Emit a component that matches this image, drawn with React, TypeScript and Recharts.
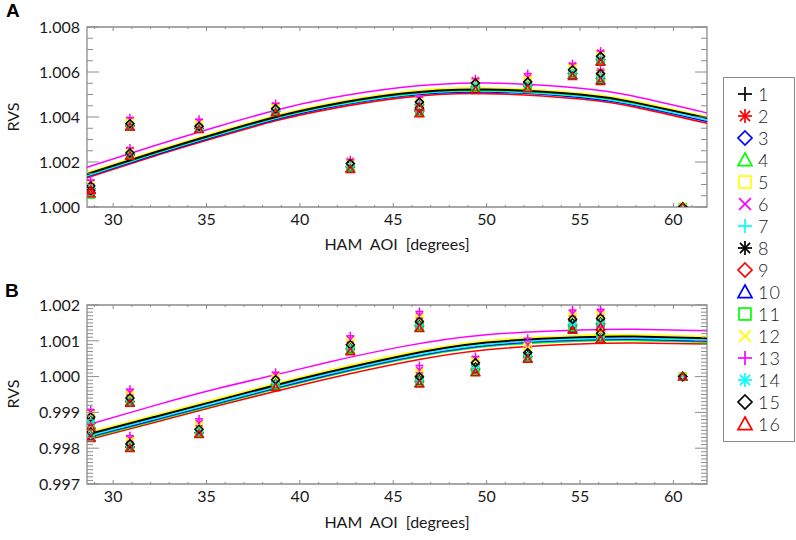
import React from 'react';
import { ComposedChart, Line, Scatter, XAxis, YAxis, ReferenceArea } from 'recharts';

// HAM angle of incidence for each measured point (some angles were measured twice)
const AOI = [28.8, 28.8, 30.9, 30.9, 34.6, 38.7, 42.7, 46.4, 46.4, 49.4, 52.2, 54.6, 56.1, 56.1, 60.5];
const FIT_AOI = [28.6, 32.2, 35.7, 38.7, 41.5, 45.4, 50, 55, 57.9, 61.8];

// panel A, RVS per detector
const A_DET1 = [1.0009, 1.0007, 1.00368, 1.00238, 1.00356, 1.00434, 1.0019, 1.00464, 1.00436, 1.00548, 1.00552, 1.00606, 1.00666, 1.0059, 1.0];
const A_DET2 = [1.00078, 1.00062, 1.00359, 1.0023, 1.00348, 1.00424, 1.00175, 1.0045, 1.0042, 1.00527, 1.00532, 1.00588, 1.0065, 1.00565, 1.0];
const A_DET3 = [1.0008, 1.00064, 1.0036, 1.00231, 1.00349, 1.00426, 1.00178, 1.00453, 1.00424, 1.00534, 1.00539, 1.00594, 1.00654, 1.00572, 1.0];
const A_DET4 = [1.00072, 1.00057, 1.00357, 1.00229, 1.00347, 1.00423, 1.00173, 1.00449, 1.00419, 1.00528, 1.00533, 1.00588, 1.00649, 1.00566, 1.0];
const A_DET5 = [1.00105, 1.00084, 1.00382, 1.0025, 1.00372, 1.00447, 1.00202, 1.00476, 1.0045, 1.0056, 1.0057, 1.00624, 1.00682, 1.006, 1.0];
const A_DET6 = [1.00108, 1.00088, 1.00386, 1.00253, 1.00377, 1.0045, 1.00204, 1.0048, 1.00452, 1.00562, 1.00575, 1.00628, 1.00685, 1.00602, 1.0];
const A_DET7 = [1.00085, 1.00066, 1.00364, 1.00234, 1.00352, 1.0043, 1.00183, 1.00458, 1.0043, 1.0054, 1.00545, 1.006, 1.0066, 1.0058, 1.0];
const A_DET8 = [1.00088, 1.00068, 1.00365, 1.00236, 1.00354, 1.00432, 1.00188, 1.00462, 1.00434, 1.00545, 1.0055, 1.00604, 1.00664, 1.00587, 1.0];
const A_DET9 = [1.00082, 1.00065, 1.00362, 1.00233, 1.0035, 1.00427, 1.0018, 1.00455, 1.00425, 1.00535, 1.0054, 1.00595, 1.00655, 1.00572, 1.0];
const A_DET10 = [1.00076, 1.00061, 1.00358, 1.00229, 1.00347, 1.00423, 1.00172, 1.00448, 1.00418, 1.00525, 1.00531, 1.00586, 1.00648, 1.00564, 1.0];
const A_DET11 = [1.0007, 1.00055, 1.00358, 1.0023, 1.00348, 1.00424, 1.00175, 1.0045, 1.0042, 1.0053, 1.00535, 1.0059, 1.0065, 1.00568, 1.0];
const A_DET12 = [1.00102, 1.0008, 1.00378, 1.00247, 1.00368, 1.00444, 1.00199, 1.00474, 1.00447, 1.00558, 1.00566, 1.0062, 1.00678, 1.00598, 1.0];
const A_DET13 = [1.00119, 1.001, 1.00397, 1.00262, 1.0039, 1.0046, 1.0021, 1.00489, 1.0046, 1.0057, 1.00593, 1.00637, 1.00693, 1.00608, 1.0];
const A_DET14 = [1.00083, 1.00065, 1.00362, 1.00233, 1.00351, 1.00428, 1.00181, 1.00456, 1.00428, 1.00538, 1.00543, 1.00598, 1.00658, 1.00578, 1.0];
const A_DET15 = [1.00093, 1.00072, 1.0037, 1.0024, 1.00359, 1.00437, 1.00193, 1.00467, 1.0044, 1.00551, 1.00556, 1.0061, 1.0067, 1.00593, 1.0];
const A_DET16 = [1.00075, 1.0006, 1.00356, 1.00227, 1.00345, 1.0042, 1.00168, 1.00445, 1.00415, 1.00519, 1.00526, 1.00581, 1.00644, 1.00559, 1.0];

// panel B, RVS per detector
const B_DET1 = [0.99884, 0.99842, 0.99937, 0.9981, 0.9985, 0.99988, 1.00086, 1.00151, 0.99997, 1.00035, 1.00064, 1.00157, 1.0016, 1.00118, 1.0];
const B_DET2 = [0.99868, 0.99832, 0.99929, 0.99802, 0.99841, 0.99974, 1.00074, 1.00138, 0.99984, 1.00015, 1.00052, 1.00136, 1.00143, 1.00106, 1.0];
const B_DET3 = [0.9987, 0.99833, 0.9993, 0.99803, 0.99843, 0.99978, 1.00077, 1.00141, 0.99986, 1.0002, 1.00055, 1.00142, 1.00147, 1.00109, 1.0];
const B_DET4 = [0.99863, 0.99829, 0.99928, 0.99801, 0.99841, 0.99973, 1.00073, 1.00138, 0.99983, 1.00014, 1.00052, 1.00135, 1.00142, 1.00106, 1.0];
const B_DET5 = [0.99897, 0.99856, 0.99952, 0.99822, 0.99866, 1.00001, 1.001, 1.00166, 1.00013, 1.00046, 1.00085, 1.00172, 1.00174, 1.0013, 1.0];
const B_DET6 = [0.999, 0.9986, 0.99955, 0.99825, 0.9987, 1.00004, 1.00104, 1.0017, 1.00018, 1.00049, 1.0009, 1.00176, 1.00178, 1.00133, 1.0];
const B_DET7 = [0.99878, 0.99838, 0.99933, 0.99807, 0.99847, 0.99983, 1.00082, 1.00146, 0.99992, 1.00028, 1.0006, 1.0015, 1.00154, 1.00114, 1.0];
const B_DET8 = [0.99882, 0.9984, 0.99935, 0.99808, 0.99848, 0.99986, 1.00084, 1.00149, 0.99995, 1.00033, 1.00062, 1.00155, 1.00158, 1.00116, 1.0];
const B_DET9 = [0.99872, 0.99834, 0.99931, 0.99804, 0.99844, 0.99979, 1.00078, 1.00142, 0.99988, 1.00022, 1.00056, 1.00144, 1.00149, 1.0011, 1.0];
const B_DET10 = [0.99866, 0.99831, 0.99928, 0.99801, 0.9984, 0.99972, 1.00072, 1.00137, 0.99982, 1.00013, 1.00051, 1.00133, 1.00141, 1.00105, 1.0];
const B_DET11 = [0.99865, 0.9983, 0.99929, 0.99802, 0.99842, 0.99975, 1.00075, 1.00139, 0.99984, 1.00016, 1.00053, 1.00138, 1.00144, 1.00107, 1.0];
const B_DET12 = [0.99894, 0.99853, 0.99948, 0.9982, 0.99862, 0.99998, 1.00097, 1.00163, 1.0001, 1.00044, 1.0008, 1.00168, 1.0017, 1.00127, 1.0];
const B_DET13 = [0.99907, 0.99868, 0.99965, 0.99835, 0.99882, 1.00012, 1.00114, 1.00182, 1.00031, 1.00056, 1.00107, 1.00186, 1.00188, 1.0014, 1.0];
const B_DET14 = [0.99876, 0.99836, 0.99932, 0.99806, 0.99846, 0.99981, 1.0008, 1.00144, 0.9999, 1.00025, 1.00058, 1.00147, 1.00152, 1.00112, 1.0];
const B_DET15 = [0.99887, 0.99845, 0.9994, 0.99812, 0.99853, 0.99991, 1.00089, 1.00154, 1.0, 1.00039, 1.00067, 1.0016, 1.00163, 1.00121, 1.0];
const B_DET16 = [0.9986, 0.99828, 0.99926, 0.998, 0.99839, 0.9997, 1.0007, 1.00135, 0.9998, 1.00011, 1.00049, 1.0013, 1.00138, 1.00104, 1.0];

// fitted curves, read at FIT_AOI
const A_FIT_MAGENTA = [1.00176, 1.00272, 1.0036, 1.0043, 1.00482, 1.00531, 1.00551, 1.00528, 1.00492, 1.00418];
const A_FIT_YELLOW = [1.00153, 1.00249, 1.00337, 1.00407, 1.00459, 1.0051, 1.00529, 1.00507, 1.00472, 1.00401];
const A_FIT_BLACK = [1.00146, 1.00242, 1.0033, 1.004, 1.00452, 1.00503, 1.00522, 1.005, 1.00465, 1.00395];
const A_FIT_GREEN = [1.00143, 1.00239, 1.00327, 1.00397, 1.00449, 1.005, 1.00519, 1.00497, 1.00462, 1.00398];
const A_FIT_CYAN = [1.00139, 1.00235, 1.00323, 1.00393, 1.00445, 1.00496, 1.00515, 1.00492, 1.00457, 1.00387];
const A_FIT_BLUE = [1.00135, 1.00231, 1.00319, 1.00389, 1.00441, 1.00492, 1.00511, 1.00487, 1.00452, 1.0038];
const A_FIT_RED = [1.0013, 1.00226, 1.00313, 1.00383, 1.00434, 1.00485, 1.00504, 1.0048, 1.00445, 1.00372];

const B_FIT_MAGENTA = [0.99865, 0.99919, 0.99968, 1.00005, 1.0004, 1.00083, 1.00117, 1.0013, 1.00132, 1.00128];
const B_FIT_YELLOW = [0.99843, 0.99892, 0.9994, 0.99981, 1.00017, 1.00062, 1.001, 1.00115, 1.00117, 1.00112];
const B_FIT_BLACK = [0.99838, 0.99887, 0.99935, 0.99976, 1.00012, 1.00057, 1.00095, 1.0011, 1.00112, 1.00107];
const B_FIT_CYAN = [0.99833, 0.99882, 0.9993, 0.99971, 1.00007, 1.00052, 1.0009, 1.00105, 1.00107, 1.00102];
const B_FIT_BLUE = [0.9983, 0.99879, 0.99927, 0.99968, 1.00004, 1.00049, 1.00087, 1.00102, 1.00104, 1.00099];
const B_FIT_GREEN = [0.99827, 0.99876, 0.99924, 0.99965, 1.00001, 1.00046, 1.00084, 1.00099, 1.00101, 1.00096];
const B_FIT_RED = [0.99823, 0.99872, 0.9992, 0.99959, 0.99994, 1.00038, 1.00075, 1.00091, 1.00094, 1.00091];

const DETECTORS = ['1', '2', '3', '4', '5', '6', '7', '8', '9', '10', '11', '12', '13', '14', '15', '16'];
const X_MAJOR = [30, 35, 40, 45, 50, 55, 60];
const A_Y_MAJOR = [1.0, 1.002, 1.004, 1.006, 1.008];
const B_Y_MAJOR = [0.997, 0.998, 0.999, 1.0, 1.001, 1.002];

const BLACK = '#000000';
const RED = '#ff0000';
const BLUE = '#0000ff';
const GREEN = '#00ff00';
const YELLOW = '#ffff00';
const MAGENTA = '#ff00ff';
const CYAN = '#00ffff';
const FRAME = '#8c8c8c';
const FONT = 'Lato, "DejaVu Sans", sans-serif';

const MARKERS = [
  { kind: 'plus', color: BLACK },
  { kind: 'asterisk', color: RED },
  { kind: 'diamond', color: BLUE },
  { kind: 'triangle', color: GREEN },
  { kind: 'square', color: YELLOW },
  { kind: 'cross', color: MAGENTA },
  { kind: 'plus', color: CYAN },
  { kind: 'asterisk', color: BLACK },
  { kind: 'diamond', color: RED },
  { kind: 'triangle', color: BLUE },
  { kind: 'square', color: GREEN },
  { kind: 'cross', color: YELLOW },
  { kind: 'plus', color: MAGENTA },
  { kind: 'asterisk', color: CYAN },
  { kind: 'diamond', color: BLACK },
  { kind: 'triangle', color: RED },
];

const A_DETS = [A_DET1, A_DET2, A_DET3, A_DET4, A_DET5, A_DET6, A_DET7, A_DET8, A_DET9, A_DET10, A_DET11, A_DET12, A_DET13, A_DET14, A_DET15, A_DET16];
const B_DETS = [B_DET1, B_DET2, B_DET3, B_DET4, B_DET5, B_DET6, B_DET7, B_DET8, B_DET9, B_DET10, B_DET11, B_DET12, B_DET13, B_DET14, B_DET15, B_DET16];

// drawing order: later ones sit on top
const A_FITS = [
  { color: RED, vals: A_FIT_RED, w: 1.6 },
  { color: BLUE, vals: A_FIT_BLUE, w: 1.5 },
  { color: CYAN, vals: A_FIT_CYAN, w: 1.5 },
  { color: GREEN, vals: A_FIT_GREEN, w: 1.5 },
  { color: YELLOW, vals: A_FIT_YELLOW, w: 1.6 },
  { color: MAGENTA, vals: A_FIT_MAGENTA, w: 1.5 },
  { color: BLACK, vals: A_FIT_BLACK, w: 2 },
];
const B_FITS = [
  { color: RED, vals: B_FIT_RED, w: 1.6 },
  { color: GREEN, vals: B_FIT_GREEN, w: 1.5 },
  { color: BLUE, vals: B_FIT_BLUE, w: 1.5 },
  { color: CYAN, vals: B_FIT_CYAN, w: 1.5 },
  { color: YELLOW, vals: B_FIT_YELLOW, w: 1.6 },
  { color: MAGENTA, vals: B_FIT_MAGENTA, w: 1.5 },
  { color: BLACK, vals: B_FIT_BLACK, w: 2 },
];

const X_DOMAIN: [number, number] = [28.6, 61.8];
const X_TICKS = Array.from({ length: 33 }, (_, i) => 29 + i);
const A_Y_TICKS = Array.from({ length: 17 }, (_, i) => +(1 + i * 0.0005).toFixed(4));
const B_Y_TICKS = Array.from({ length: 51 }, (_, i) => +(0.997 + i * 0.0001).toFixed(4));

const CHART_W = 710;
const Y_AXIS_W = 87;
const PLOT_W = CHART_W - Y_AXIS_W - 3;

function Marker({ cx, cy, kind, color, r, sw }: any) {
  if (cx == null || cy == null) return null;
  const d = r * 0.72;
  switch (kind) {
    case 'plus':
      return (
        <g stroke={color} strokeWidth={sw}>
          <line x1={cx - r} y1={cy} x2={cx + r} y2={cy} />
          <line x1={cx} y1={cy - r} x2={cx} y2={cy + r} />
        </g>
      );
    case 'asterisk':
      return (
        <g stroke={color} strokeWidth={sw}>
          <line x1={cx - r} y1={cy} x2={cx + r} y2={cy} />
          <line x1={cx} y1={cy - r} x2={cx} y2={cy + r} />
          <line x1={cx - d} y1={cy - d} x2={cx + d} y2={cy + d} />
          <line x1={cx - d} y1={cy + d} x2={cx + d} y2={cy - d} />
        </g>
      );
    case 'cross':
      return (
        <g stroke={color} strokeWidth={sw}>
          <line x1={cx - r * 0.85} y1={cy - r * 0.85} x2={cx + r * 0.85} y2={cy + r * 0.85} />
          <line x1={cx - r * 0.85} y1={cy + r * 0.85} x2={cx + r * 0.85} y2={cy - r * 0.85} />
        </g>
      );
    case 'diamond':
      return (
        <polygon
          points={`${cx},${cy - r} ${cx + r},${cy} ${cx},${cy + r} ${cx - r},${cy}`}
          fill="none" stroke={color} strokeWidth={sw}
        />
      );
    case 'triangle':
      return (
        <polygon
          points={`${cx},${cy - r} ${cx + r},${cy + r * 0.8} ${cx - r},${cy + r * 0.8}`}
          fill="none" stroke={color} strokeWidth={sw}
        />
      );
    default:
      return (
        <rect x={cx - r * 0.85} y={cy - r * 0.85} width={r * 1.7} height={r * 1.7}
          fill="none" stroke={color} strokeWidth={sw} />
      );
  }
}

const isMajor = (majors: number[], v: number) => majors.some((m) => Math.abs(m - v) < 1e-7);

function XTick({ x, y, payload, plotH }: any) {
  const v = payload.value;
  const major = isMajor(X_MAJOR, v);
  const len = major ? 4 : 2;
  return (
    <g>
      <line x1={x} y1={y} x2={x} y2={y - len} stroke={FRAME} />
      <line x1={x} y1={y - plotH} x2={x} y2={y - plotH + len} stroke={FRAME} />
      {major && (
        <text x={x} y={y + 18} textAnchor="middle" fontSize={16} fontFamily={FONT} fill="#1a1a1a">
          {v}
        </text>
      )}
    </g>
  );
}

function YTick({ x, y, payload, majors }: any) {
  const v = payload.value;
  const major = isMajor(majors, v);
  const len = major ? 12 : 6;
  return (
    <g>
      <line x1={x} y1={y} x2={x + len} y2={y} stroke={FRAME} />
      <line x1={x + PLOT_W} y1={y} x2={x + PLOT_W - len} y2={y} stroke={FRAME} />
      {major && (
        <text x={x - 7} y={y} dy="0.36em" textAnchor="end" fontSize={16} fontFamily={FONT} fill="#1a1a1a">
          {v.toFixed(3)}
        </text>
      )}
    </g>
  );
}

function Panel({ dets, fits, yDomain, yTicks, yMajor, plotH }: any) {
  return (
    <ComposedChart width={CHART_W} height={27 + plotH + 48} margin={{ top: 27, right: 3, bottom: 0, left: 0 }}>
      <XAxis
        type="number" dataKey="x" domain={X_DOMAIN} allowDataOverflow ticks={X_TICKS} interval={0}
        height={48} tickSize={0} tickMargin={0} tickLine={false} axisLine={false}
        tick={(p: any) => <XTick {...p} plotH={plotH} />}
      />
      <YAxis
        type="number" dataKey="y" domain={yDomain} allowDataOverflow ticks={yTicks} interval={0}
        width={Y_AXIS_W} tickSize={0} tickMargin={0} tickLine={false} axisLine={false}
        tick={(p: any) => <YTick {...p} majors={yMajor} />}
      />
      <ReferenceArea x1={X_DOMAIN[0]} x2={X_DOMAIN[1]} y1={yDomain[0]} y2={yDomain[1]}
        fill="none" fillOpacity={0} stroke={FRAME} strokeWidth={1.3} />
      {dets.map((vals: number[], i: number) => (
        <Scatter
          key={DETECTORS[i]}
          name={DETECTORS[i]}
          data={AOI.map((x, k) => ({ x, y: vals[k] }))}
          isAnimationActive={false}
          shape={(p: any) => <Marker cx={p.cx} cy={p.cy} kind={MARKERS[i].kind} color={MARKERS[i].color} r={4} sw={1.5} />}
        />
      ))}
      {fits.map((f: any, i: number) => (
        <Line
          key={'fit' + i}
          data={FIT_AOI.map((x, k) => ({ x, y: f.vals[k] }))}
          dataKey="y" type="natural" stroke={f.color} strokeWidth={f.w}
          dot={false} activeDot={false} isAnimationActive={false}
        />
      ))}
    </ComposedChart>
  );
}

function Legend() {
  return (
    <div style={{ position: 'absolute', left: 723, top: 77, width: 70, height: 363, border: `1px solid ${FRAME}`, background: '#fff' }}>
      {DETECTORS.map((d, i) => (
        <div key={d} style={{ position: 'absolute', left: 0, top: 5 + i * 22, height: 22, width: 70 }}>
          <svg width={34} height={22} style={{ position: 'absolute', left: 4, top: 0 }}>
            <Marker cx={17} cy={11} kind={MARKERS[i].kind} color={MARKERS[i].color} r={7} sw={1.7} />
          </svg>
          <div style={{ position: 'absolute', left: 34, top: 0, fontFamily: FONT, fontWeight: 300, fontSize: 18, letterSpacing: 1, lineHeight: '22px', height: 22, color: '#1a1a1a' }}>
            {d}
          </div>
        </div>
      ))}
    </div>
  );
}

const labelStyle: React.CSSProperties = { position: 'absolute', fontFamily: FONT, fontSize: 16, color: '#1a1a1a', whiteSpace: 'nowrap' };

export default function App() {
  return (
    <div style={{ position: 'absolute', left: 0, top: 0, width: 796, height: 540, background: '#fff', overflow: 'hidden' }}>
      <div style={{ position: 'absolute', left: 0, top: 0 }}>
        <Panel dets={A_DETS} fits={A_FITS} yDomain={[1.0, 1.008]} yTicks={A_Y_TICKS} yMajor={A_Y_MAJOR} plotH={180} />
      </div>
      <div style={{ position: 'absolute', left: 0, top: 278 }}>
        <Panel dets={B_DETS} fits={B_FITS} yDomain={[0.997, 1.002]} yTicks={B_Y_TICKS} yMajor={B_Y_MAJOR} plotH={179} />
      </div>
      <div style={{ position: 'absolute', left: 6, top: 0, fontFamily: '"Liberation Sans", Arial, sans-serif', fontWeight: 700, fontSize: 19 }}>A</div>
      <div style={{ position: 'absolute', left: 5, top: 280, fontFamily: '"Liberation Sans", Arial, sans-serif', fontWeight: 700, fontSize: 19 }}>B</div>
      <div style={{ ...labelStyle, left: 12, top: 117, transform: 'translate(-50%, -50%) rotate(-90deg)' }}>RVS</div>
      <div style={{ ...labelStyle, left: 12, top: 394, transform: 'translate(-50%, -50%) rotate(-90deg)' }}>RVS</div>
      <div style={{ ...labelStyle, left: 397, top: 243, transform: 'translate(-50%, -50%)', wordSpacing: 4 }}>HAM AOI [degrees]</div>
      <div style={{ ...labelStyle, left: 397, top: 521, transform: 'translate(-50%, -50%)', wordSpacing: 4 }}>HAM AOI [degrees]</div>
      <Legend />
    </div>
  );
}
